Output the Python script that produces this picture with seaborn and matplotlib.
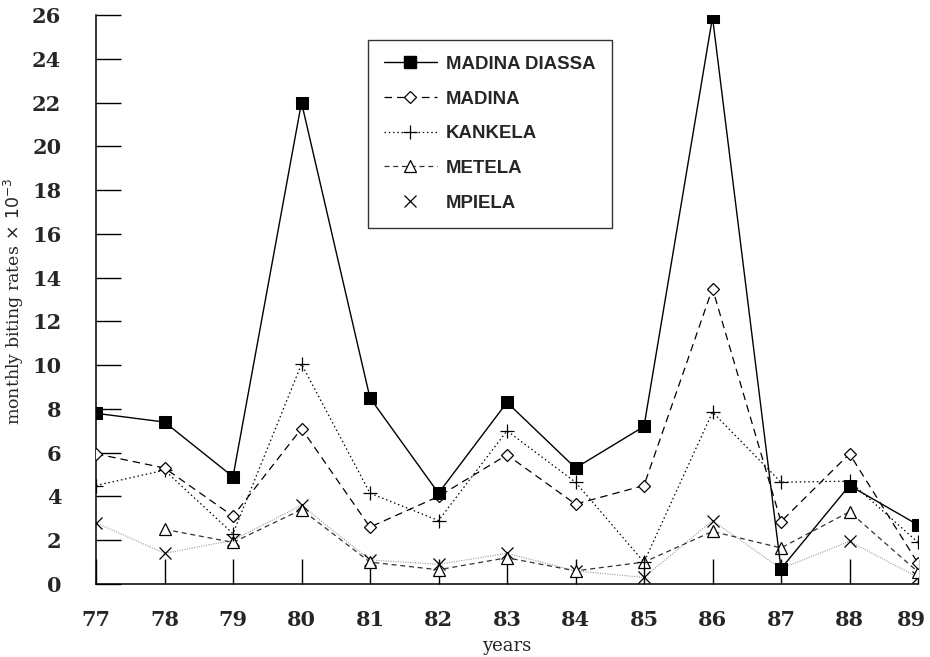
import matplotlib
matplotlib.use("Agg")
import matplotlib.pyplot as plt
import matplotlib.transforms as mtransforms
from matplotlib.lines import Line2D
import numpy as np
import seaborn as sns

sns.set_theme(style="white")
plt.rcParams["font.family"] = ["DejaVu Serif"]

# Monthly biting rates (x 10^-3) per village, 1977-1989
years = [77, 78, 79, 80, 81, 82, 83, 84, 85, 86, 87, 88, 89]
madina_diassa = [7.8, 7.4, 4.9, 22.0, 8.5, 4.15, 8.3, 5.3, 7.2, 25.9, 0.7, 4.5, 2.7]
madina = [5.95, 5.3, 3.1, 7.1, 2.6, 4.0, 5.9, 3.65, 4.5, 13.5, 2.85, 5.95, 0.95]
kankela = [4.5, 5.2, 2.3, 10.05, 4.15, 2.9, 7.0, 4.65, 1.0, 7.85, 4.65, 4.7, 1.9]
metela = [np.nan, 2.5, 1.9, 3.4, 1.0, 0.65, 1.2, 0.6, 1.0, 2.4, 1.65, 3.3, 0.55]
mpiela = [2.8, 1.4, 2.0, 3.6, 1.1, 0.9, 1.4, 0.6, 0.3, 2.9, 0.7, 1.95, 0.3]

series_names = ["MADINA DIASSA", "MADINA", "KANKELA", "METELA", "MPIELA"]
y_ticks = list(range(0, 27, 2))

fig = plt.figure(figsize=(9.3, 6.57), dpi=100)
ax = fig.add_axes([96 / 930, 1 - 584 / 657, (918 - 96) / 930, (584 - 15) / 657])

styles = {
    "MADINA DIASSA": dict(linestyle="-", marker="s", markersize=9,
                          markerfacecolor="black", markeredgecolor="black",
                          color="black", linewidth=1.0),
    "MADINA": dict(linestyle=(0, (6, 4)), marker="D", markersize=6.5,
                   markerfacecolor="white", markeredgecolor="black",
                   markeredgewidth=0.9, color="black", linewidth=0.9),
    "KANKELA": dict(linestyle=(0, (1.2, 2.2)), marker="+", markersize=10,
                    markeredgecolor="black", markeredgewidth=0.9,
                    color="black", linewidth=0.9),
    "METELA": dict(linestyle=(0, (4, 3)), marker="^", markersize=8,
                   markerfacecolor="white", markeredgecolor="black",
                   markeredgewidth=0.9, color="#333333", linewidth=0.9),
}
values = {"MADINA DIASSA": madina_diassa, "MADINA": madina,
          "KANKELA": kankela, "METELA": metela, "MPIELA": mpiela}

# MPIELA: faint grey dotted line under the crosses
sns.lineplot(x=years, y=mpiela, ax=ax, color="#9a9a9a", linestyle=(0, (1, 1.2)),
             linewidth=0.8, marker="x", markersize=9, markeredgecolor="black",
             markeredgewidth=0.9, legend=False, zorder=2)

for name in ["METELA", "KANKELA", "MADINA", "MADINA DIASSA"]:
    sns.lineplot(x=years, y=values[name], ax=ax, legend=False, zorder=3, **styles[name])

ax.set_xlim(77, 89)
ax.set_ylim(0, 26)
ax.set_xticks(years)
ax.set_yticks(y_ticks)
ax.set_xticklabels([str(v) for v in years], fontweight="bold", fontsize=15)
ax.set_yticklabels([str(v) for v in y_ticks], fontweight="bold", fontsize=15)
ax.tick_params(axis="both", direction="in", length=18, width=1.0, color="black",
               left=True, bottom=True)
ax.tick_params(axis="x", pad=19)
ax.tick_params(axis="y", pad=25)
for side in ["top", "right"]:
    ax.spines[side].set_visible(False)
for side in ["left", "bottom"]:
    ax.spines[side].set_color("black")
    ax.spines[side].set_linewidth(1.1)

# keep the last year label inside the figure
last = ax.get_xticklabels()[-1]
last.set_transform(last.get_transform()
                   + mtransforms.ScaledTranslation(-7 / 100, 0, fig.dpi_scale_trans))

ax.set_xlabel("years", fontsize=13)
ax.xaxis.set_label_coords(0.5, -0.093)
ax.set_ylabel(r"monthly biting rates$\,\times\,10^{-3}$", fontsize=12.5)
ax.yaxis.set_label_coords(-0.085, 0.496)

handles = []
for name in series_names[:4]:
    handles.append(Line2D([], [], **styles[name]))
handles.append(Line2D([], [], linestyle="none", marker="x", markersize=9,
                      markeredgecolor="black", markeredgewidth=0.9))
leg = ax.legend(handles, series_names, loc="upper left",
                bbox_to_anchor=(0.331, 0.956), borderaxespad=0,
                frameon=True, fancybox=False, handlelength=2.85,
                handletextpad=0.5, labelspacing=0.95, borderpad=0.85,
                prop={"family": "Liberation Sans", "weight": "bold", "size": 13.4})
leg.get_frame().set_edgecolor("black")
leg.get_frame().set_linewidth(1.0)

fig.savefig("out.png", dpi=100)
